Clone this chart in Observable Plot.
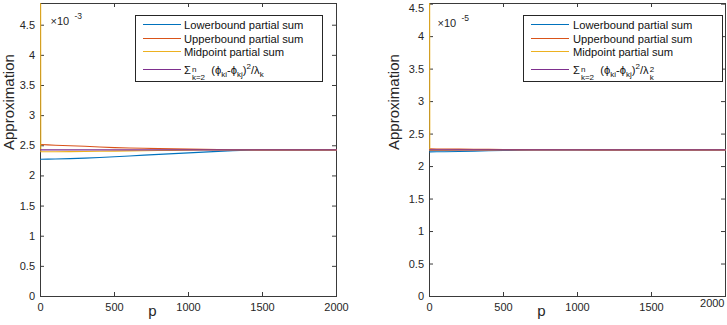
<!DOCTYPE html>
<html>
<head>
<meta charset="utf-8">
<script src="https://cdn.jsdelivr.net/npm/d3@7"></script>
<script src="https://cdn.jsdelivr.net/npm/@observablehq/plot@0.6"></script>
<style>
  html, body { margin: 0; padding: 0; background: #fff; }
  #wrap { position: relative; width: 727px; height: 325px; overflow: hidden; font-family: "Liberation Sans", Arial, Helvetica, sans-serif; }
  #wrap svg { position: absolute; top: 0; overflow: visible; }
  .legend { position: absolute; background: #fff; border: 1px solid #262626; box-sizing: border-box; }
  .legend .ln { position: absolute; height: 0; border-top: 1.5px solid; }
  .legend .tx { position: absolute; font-size: 11.2px; line-height: 14px; color: #111; white-space: nowrap; }
  .legend sub, .legend sup { font-size: 8px; line-height: 0; }
  .legend sub { vertical-align: -3px; }
  .legend sup { vertical-align: 5px; }
  .st { display: inline-block; vertical-align: -6px; font-size: 8px; line-height: 8px; margin-left: 1px; }
  .st span { display: block; }
</style>
</head>
<body>
<div id="wrap"></div>
<script>
// ---------- data ----------
const pValues = [1, 2, 50, 100, 200, 300, 400, 500, 600, 700, 800, 900, 1000, 1100, 1200, 1300, 1400, 1500, 1750, 2000];

// left panel (x 10^-3)
const lowerA = [2.277, 2.277, 2.279, 2.281, 2.287, 2.296, 2.306, 2.318, 2.330, 2.345, 2.358, 2.370, 2.382, 2.395, 2.408, 2.420, 2.428, 2.432, 2.432, 2.432];
const upperA = [2.520, 2.520, 2.515, 2.510, 2.500, 2.491, 2.480, 2.470, 2.464, 2.459, 2.453, 2.448, 2.444, 2.440, 2.437, 2.435, 2.433, 2.432, 2.432, 2.432];
const midA   = [4.860, 2.400, 2.400, 2.401, 2.403, 2.406, 2.409, 2.412, 2.415, 2.418, 2.421, 2.424, 2.427, 2.429, 2.431, 2.432, 2.432, 2.432, 2.432, 2.432];
const exactA = [2.432, 2.432, 2.432, 2.432, 2.432, 2.432, 2.432, 2.432, 2.432, 2.432, 2.432, 2.432, 2.432, 2.432, 2.432, 2.432, 2.432, 2.432, 2.432, 2.432];

// right panel (x 10^-5)
const lowerB = [2.226, 2.226, 2.227, 2.229, 2.233, 2.238, 2.243, 2.247, 2.251, 2.254, 2.256, 2.257, 2.257, 2.257, 2.257, 2.257, 2.257, 2.257, 2.257, 2.257];
const upperB = [2.272, 2.272, 2.271, 2.270, 2.268, 2.266, 2.264, 2.262, 2.261, 2.260, 2.259, 2.258, 2.258, 2.257, 2.257, 2.257, 2.257, 2.257, 2.257, 2.257];
const midB   = [4.510, 2.249, 2.249, 2.249, 2.250, 2.252, 2.253, 2.254, 2.255, 2.256, 2.256, 2.257, 2.257, 2.257, 2.257, 2.257, 2.257, 2.257, 2.257, 2.257];
const exactB = [2.257, 2.257, 2.257, 2.257, 2.257, 2.257, 2.257, 2.257, 2.257, 2.257, 2.257, 2.257, 2.257, 2.257, 2.257, 2.257, 2.257, 2.257, 2.257, 2.257];

const xTicks = [0, 500, 1000, 1500, 2000];
const yTicks = [0, 0.5, 1, 1.5, 2, 2.5, 3, 3.5, 4, 4.5];
const seriesColors = ["#0072BD", "#D95319", "#EDB120", "#7E2F8E"];
const legendNames = ["Lowerbound partial sum", "Upperbound partial sum", "Midpoint partial sum"];
const legendFormulaA = "&Sigma;<span class='st'><span>n</span><span>k=2</span></span>&nbsp; (&#981;<sub>ki</sub>-&#981;<sub>kj</sub>)<sup>2</sup>/&lambda;<sub>k</sub>";
const legendFormulaB = "&Sigma;<span class='st'><span>n</span><span>k=2</span></span>&nbsp; (&#981;<sub>ki</sub>-&#981;<sub>kj</sub>)<sup>2</sup>/&lambda;<span class='st'><span>2</span><span>k</span></span>";
const xLabel = "p";
const yLabel = "Approximation";

// ---------- drawing ----------
const axisColor = "#3a3a3a";
const textColor = "#262626";
const H = 325, MT = 3, MB = 29;

function panel(cfg) {
  const innerW = cfg.width - cfg.ml - cfg.mr;
  const innerH = H - MT - MB;
  const series = [cfg.lower, cfg.upper, cfg.mid, cfg.exact];
  const mainYTicks = yTicks.filter(t => t !== cfg.nudgeTop);
  const mainXTicks = xTicks.filter(t => t !== cfg.nudgeRight);
  const marks = [
    Plot.frame({stroke: axisColor, strokeWidth: 1}),
    Plot.ruleX(xTicks, {x: d => d, insetTop: innerH - 4, stroke: axisColor}),
    Plot.ruleX(xTicks, {x: d => d, insetBottom: innerH - 4, stroke: axisColor}),
    Plot.ruleY(yTicks, {y: d => d, insetRight: innerW - 4, stroke: axisColor}),
    Plot.ruleY(yTicks, {y: d => d, insetLeft: innerW - 4, stroke: axisColor}),
    Plot.axisX({ticks: mainXTicks, tickSize: 0, tickPadding: 7, label: null, tickFormat: d => String(d), fontSize: 11, fill: textColor}),
    Plot.axisY({ticks: mainYTicks, tickSize: 0, tickPadding: 5.5, label: null, tickFormat: d => String(d), fontSize: 11, fill: textColor}),
  ];
  if (cfg.nudgeTop != null) {
    marks.push(Plot.text([cfg.nudgeTop], {y: d => d, frameAnchor: "left", dx: -5.5, dy: 4.5, textAnchor: "end", text: d => String(d), fontSize: 11, fill: textColor}));
  }
  if (cfg.nudgeRight != null) {
    marks.push(Plot.text([cfg.nudgeRight], {x: d => d, frameAnchor: "bottom", dx: -1, dy: 10, textAnchor: "end", text: d => String(d), fontSize: 11, fill: textColor}));
  }
  series.forEach((s, i) => {
    marks.push(Plot.line(s, {x: pValues, y: d => d, stroke: seriesColors[i], strokeWidth: 1.1}));
  });
  marks.push(
    Plot.text([cfg.expBase], {frameAnchor: "top-left", dx: cfg.expDx, dy: cfg.expDy, text: d => d, textAnchor: "start", fontSize: 11, fill: textColor}),
    Plot.text([cfg.expPow], {frameAnchor: "top-left", dx: cfg.expDx + 24, dy: cfg.expDy - 5, text: d => d, textAnchor: "start", fontSize: 8.5, fill: textColor}),
    Plot.text([xLabel], {frameAnchor: "bottom", dx: -36, dy: 19.5, text: d => d, fontSize: 15, fill: textColor}),
    Plot.text([yLabel], {frameAnchor: "left", dx: cfg.yLabDx, text: d => d, rotate: -90, fontSize: 15, fill: textColor})
  );
  const svg = Plot.plot({
    width: cfg.width, height: H,
    marginTop: MT, marginBottom: MB, marginLeft: cfg.ml, marginRight: cfg.mr,
    x: {domain: [0, 2000]},
    y: {domain: [0, cfg.yMax]},
    style: {fontFamily: "'Liberation Sans', Arial, Helvetica, sans-serif", background: "transparent", color: textColor},
    marks
  });
  svg.style.left = cfg.left + "px";
  return svg;
}

function legend(cfg, formula) {
  const div = document.createElement("div");
  div.className = "legend";
  Object.assign(div.style, {left: cfg.lgLeft + "px", top: "15px", width: cfg.lgWidth + "px", height: "67px"});
  const labels = [...legendNames, formula];
  const centers = [9, 23, 36, 54];
  labels.forEach((lab, i) => {
    const ln = document.createElement("div");
    ln.className = "ln";
    Object.assign(ln.style, {left: "7px", width: "38px", top: (centers[i] - 1) + "px", borderTopColor: seriesColors[i]});
    const tx = document.createElement("div");
    tx.className = "tx";
    Object.assign(tx.style, {left: cfg.lgText + "px", top: (centers[i] - 7.5) + "px"});
    tx.innerHTML = lab;
    div.append(ln, tx);
  });
  return div;
}

const wrap = document.getElementById("wrap");
const cfgA = {left: 0, width: 363, ml: 40, mr: 27, yMax: 4.86, lower: lowerA, upper: upperA, mid: midA, exact: exactA,
  expBase: "×10", expPow: "-3", expDx: 10, expDy: 14, yLabDx: -31.5, lgLeft: 135, lgWidth: 188, lgText: 48};
const cfgB = {left: 363, width: 364, ml: 66, mr: 2, yMax: 4.51, lower: lowerB, upper: upperB, mid: midB, exact: exactB,
  expBase: "×10", expPow: "-5", expDx: 8, expDy: 16, yLabDx: -35, nudgeTop: 4.5, nudgeRight: 2000, lgLeft: 523, lgWidth: 200, lgText: 49};
wrap.append(panel(cfgA), panel(cfgB), legend(cfgA, legendFormulaA), legend(cfgB, legendFormulaB));
</script>
</body>
</html>
